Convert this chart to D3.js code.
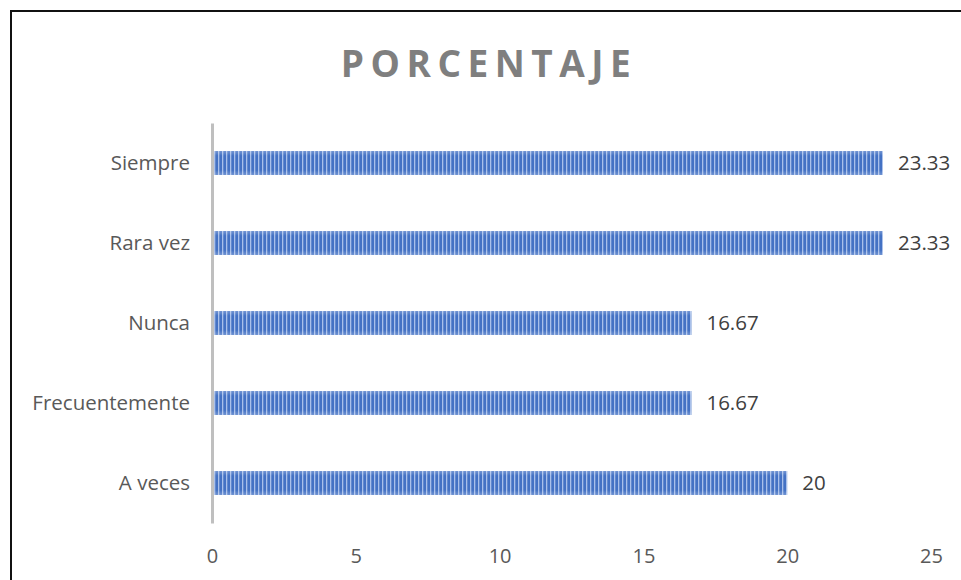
<!DOCTYPE html>
<html>
<head>
<meta charset="utf-8">
<script src="https://cdn.jsdelivr.net/npm/d3@7"></script>
<style>
  html, body { margin: 0; padding: 0; background: #fff; }
  svg { display: block; }
  text { font-family: "Open Sans", "Liberation Sans", sans-serif; }
</style>
</head>
<body>
<svg id="chart" width="961" height="580"></svg>
<script>
// Categories (bottom to top as drawn) and their percentages
const categories = ["A veces", "Frecuentemente", "Nunca", "Rara vez", "Siempre"];
const values = [20, 16.67, 16.67, 23.33, 23.33];
const valueLabels = ["20", "16.67", "16.67", "23.33", "23.33"];
const xTicks = [0, 5, 10, 15, 20, 25];
const title = "PORCENTAJE";

const svg = d3.select("#chart");
const W = 961, H = 580;

// Outer frame (top and left edges visible)
svg.append("path")
  .attr("d", `M11,${H} L11,11 L${W},11`)
  .attr("fill", "none")
  .attr("stroke", "#111")
  .attr("stroke-width", 2);

// Striped fill for the bars
const defs = svg.append("defs");
const pat = defs.append("pattern")
  .attr("id", "stripes")
  .attr("patternUnits", "userSpaceOnUse")
  .attr("width", 4).attr("height", 40);
pat.append("rect").attr("width", 4).attr("height", 40).attr("fill", "#4472c4");
pat.append("rect").attr("x", 2).attr("width", 1.3).attr("height", 40).attr("fill", "#a9c0ea");

const vGrad = defs.append("linearGradient")
  .attr("id", "shade").attr("x1", 0).attr("y1", 0).attr("x2", 0).attr("y2", 1);
vGrad.append("stop").attr("offset", "0%").attr("stop-color", "#fff").attr("stop-opacity", 0.25);
vGrad.append("stop").attr("offset", "20%").attr("stop-color", "#fff").attr("stop-opacity", 0);
vGrad.append("stop").attr("offset", "80%").attr("stop-color", "#fff").attr("stop-opacity", 0);
vGrad.append("stop").attr("offset", "100%").attr("stop-color", "#fff").attr("stop-opacity", 0.25);

const x = d3.scaleLinear().domain([0, 25]).range([212, 931]);
const y = d3.scaleBand().domain(categories).range([523, 123]).paddingInner(0.7).paddingOuter(0.35);

// Title
svg.append("text")
  .attr("x", 489).attr("y", 77)
  .attr("text-anchor", "middle")
  .attr("font-size", 37)
  .attr("font-weight", 700)
  .attr("letter-spacing", 6.5)
  .attr("fill", "#7f7f7f")
  .text(title);

// Bars
const rows = categories.map((c, i) => ({ c, v: values[i], label: valueLabels[i] }));
const bars = svg.append("g");
bars.selectAll("rect.bar").data(rows).join("rect")
  .attr("class", "bar")
  .attr("x", x(0))
  .attr("y", d => y(d.c))
  .attr("width", d => x(d.v) - x(0))
  .attr("height", y.bandwidth())
  .attr("fill", "url(#stripes)");
bars.selectAll("rect.shade").data(rows).join("rect")
  .attr("class", "shade")
  .attr("x", x(0))
  .attr("y", d => y(d.c))
  .attr("width", d => x(d.v) - x(0))
  .attr("height", y.bandwidth())
  .attr("fill", "url(#shade)");

// Value labels
svg.append("g").selectAll("text").data(rows).join("text")
  .attr("x", d => x(d.v) + 15)
  .attr("y", d => y(d.c) + y.bandwidth() / 2)
  .attr("dy", "0.36em")
  .attr("font-size", 20.5)
  .attr("fill", "#404040")
  .text(d => d.label);

// Vertical category axis
const yAxis = svg.append("g")
  .attr("transform", `translate(${x(0)},0)`)
  .call(d3.axisLeft(y).tickSize(0).tickPadding(22));
yAxis.select(".domain").attr("stroke", "#bfbfbf").attr("stroke-width", 3);
yAxis.selectAll("text")
  .attr("font-size", 20.5)
  .attr("fill", "#595959")
  .attr("font-family", "'Open Sans', 'Liberation Sans', sans-serif");

// Horizontal value axis (labels only)
const xAxis = svg.append("g")
  .attr("transform", `translate(0,543)`)
  .call(d3.axisBottom(x).tickValues(xTicks).tickSize(0).tickPadding(6));
xAxis.select(".domain").remove();
xAxis.selectAll("text")
  .attr("font-size", 20)
  .attr("fill", "#595959")
  .attr("font-family", "'Open Sans', 'Liberation Sans', sans-serif");
</script>
</body>
</html>
